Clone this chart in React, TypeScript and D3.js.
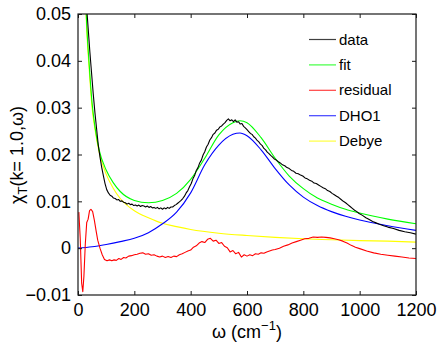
import * as d3 from "d3";
import React, { useEffect, useRef } from "react";

// omega (cm^-1), chi values
const dataPts: [number, number][] = [
  [30, 0.052], [36, 0.047], [42, 0.042], [48, 0.0375], [54, 0.033], [60, 0.029],
  [66, 0.0255], [72, 0.022], [78, 0.0195], [84, 0.0173], [90, 0.0155], [96, 0.0138],
  [102, 0.0125], [108, 0.0118], [114, 0.0113], [120, 0.0111], [126, 0.0107], [132, 0.0106],
  [138, 0.0103], [144, 0.0104], [150, 0.0100], [156, 0.0101], [162, 0.0098], [168, 0.0097],
  [174, 0.0094], [180, 0.0096], [186, 0.0093], [192, 0.0094], [198, 0.0091], [204, 0.0092],
  [210, 0.0090], [216, 0.0092], [222, 0.0089], [228, 0.0091], [234, 0.0090], [240, 0.0088],
  [246, 0.0090], [252, 0.0087], [258, 0.0089], [264, 0.0086], [270, 0.0087], [276, 0.0085],
  [282, 0.0087], [288, 0.0084], [294, 0.0086], [300, 0.0083], [306, 0.0086], [312, 0.0084],
  [318, 0.0087], [324, 0.0085], [330, 0.0088], [336, 0.0088], [342, 0.0091], [348, 0.0093],
  [354, 0.0096], [360, 0.0099], [366, 0.0102], [372, 0.0106], [378, 0.0111], [384, 0.0118],
  [390, 0.0123], [396, 0.0131], [402, 0.0138], [408, 0.0148], [414, 0.0155], [420, 0.0166],
  [426, 0.0172], [432, 0.0182], [438, 0.0188], [444, 0.0199], [450, 0.0206], [456, 0.0216],
  [462, 0.0222], [468, 0.0231], [474, 0.0236], [480, 0.0243], [486, 0.0246], [492, 0.0252],
  [498, 0.0254], [504, 0.0259], [510, 0.0261], [516, 0.0265], [522, 0.0268], [528, 0.0273],
  [534, 0.0276], [540, 0.0272], [546, 0.0274], [552, 0.0270], [558, 0.0274], [564, 0.0269],
  [570, 0.0270], [576, 0.0265], [582, 0.0266], [588, 0.0260], [594, 0.0257], [600, 0.0253],
  [606, 0.0249], [612, 0.0245], [618, 0.0243], [624, 0.0238], [630, 0.0235], [636, 0.0230],
  [642, 0.0227], [648, 0.0222], [654, 0.0219], [660, 0.0213], [666, 0.0210], [672, 0.0205],
  [678, 0.0202], [684, 0.0198], [690, 0.0195], [696, 0.0191], [702, 0.0189], [710, 0.0185],
  [718, 0.0182], [726, 0.0178], [734, 0.0176], [742, 0.0172], [750, 0.0170], [758, 0.0166],
  [766, 0.0164], [774, 0.0160], [782, 0.0159], [790, 0.0156], [798, 0.0154], [806, 0.0150],
  [814, 0.0148], [822, 0.0145], [830, 0.0143], [838, 0.0139], [846, 0.0138], [854, 0.0135],
  [862, 0.0132], [870, 0.0129], [878, 0.0127], [886, 0.0123], [894, 0.0121], [902, 0.0117],
  [910, 0.0114], [918, 0.0111], [926, 0.0108], [934, 0.0104], [942, 0.0100], [950, 0.0097],
  [958, 0.0093], [966, 0.0089], [974, 0.0085], [982, 0.0081], [990, 0.0078], [998, 0.0074],
  [1010, 0.0070], [1022, 0.0065], [1034, 0.0061], [1046, 0.0057], [1058, 0.0054],
  [1070, 0.0051], [1085, 0.0048], [1100, 0.0045], [1120, 0.0042], [1140, 0.0038],
  [1160, 0.0035], [1180, 0.0033], [1200, 0.0030],
];

const fitPts: [number, number][] = [
  [25, 0.057], [30, 0.049], [40, 0.039], [50, 0.031], [60, 0.026], [75, 0.021],
  [100, 0.0167], [125, 0.0140], [150, 0.0121], [200, 0.0102], [250, 0.0097], [300, 0.0102],
  [350, 0.0117], [400, 0.0147], [450, 0.0192], [500, 0.0242], [550, 0.0268], [575, 0.0272],
  [600, 0.0268], [650, 0.0236], [700, 0.0192], [750, 0.0154], [800, 0.0127], [850, 0.0107],
  [900, 0.0094], [950, 0.0083], [1000, 0.0075], [1100, 0.0062], [1200, 0.0052],
];

const residualPts: [number, number][] = [
  [3, 0.0077], [8, 0.002], [13, -0.0075], [17, -0.0093], [21, -0.006], [26, 0.001],
  [31, 0.0055], [36, 0.0062], [41, 0.008], [46, 0.0083], [52, 0.0078], [58, 0.006],
  [64, 0.0038], [70, 0.0017], [78, 0.0], [86, -0.0014], [94, -0.0024], [103, -0.0027],
  [112, -0.0025], [120, -0.0027], [128, -0.0025], [136, -0.0026], [145, -0.0022],
  [153, -0.0024], [162, -0.002], [170, -0.0021], [180, -0.0017], [190, -0.0016],
  [200, -0.0014], [210, -0.0013], [220, -0.0011], [230, -0.001], [240, -0.0013],
  [250, -0.0012], [260, -0.0015], [270, -0.0014], [280, -0.0017], [290, -0.0019],
  [300, -0.0017], [310, -0.002], [320, -0.0018], [330, -0.002], [340, -0.0017],
  [350, -0.0018], [360, -0.0014], [370, -0.0012], [380, -0.0009], [390, -0.0006],
  [400, -0.0004], [410, 0.0002], [420, 0.0005], [430, 0.0011], [440, 0.0014], [450, 0.0012],
  [460, 0.0019], [470, 0.0021], [480, 0.0015], [490, 0.0017], [500, 0.001], [510, 0.0012],
  [520, 0.0004], [530, 0.0001], [540, -0.0008], [550, -0.0005], [560, -0.0012],
  [570, -0.0009], [580, -0.0019], [590, -0.0014], [600, -0.0017], [610, -0.0014],
  [620, -0.0016], [630, -0.0012], [640, -0.0013], [650, -0.001], [660, -0.0011],
  [670, -0.0008], [680, -0.0006], [690, -0.0004], [700, -0.0003], [715, 0.0], [730, 0.0004],
  [745, 0.0007], [760, 0.0011], [775, 0.0014], [790, 0.0017], [805, 0.002], [820, 0.0021],
  [835, 0.0024], [850, 0.0023], [865, 0.0024], [880, 0.0023], [895, 0.0022], [910, 0.002],
  [925, 0.0018], [940, 0.0015], [955, 0.0011], [970, 0.0006], [985, 0.0002], [1000, -0.0001],
  [1025, -0.0006], [1050, -0.001], [1075, -0.0013], [1100, -0.0015], [1125, -0.0017],
  [1150, -0.0019], [1175, -0.0021], [1200, -0.0022],
];

const dhoPts: [number, number][] = [
  [0, 0.0], [50, 0.0003], [100, 0.0008], [150, 0.0014], [200, 0.0021], [250, 0.0033],
  [300, 0.0052], [350, 0.0077], [400, 0.0118], [450, 0.0178], [500, 0.022], [550, 0.0243],
  [575, 0.0246], [600, 0.024], [650, 0.021], [700, 0.017], [750, 0.0135], [800, 0.0109],
  [850, 0.0091], [900, 0.0078], [950, 0.0068], [1000, 0.006], [1100, 0.0048], [1200, 0.0038],
];

const debyePts: [number, number][] = [
  [25, 0.056], [30, 0.048], [40, 0.038], [50, 0.030], [60, 0.0255], [75, 0.0205],
  [100, 0.0158], [125, 0.0128], [150, 0.0106], [200, 0.008], [250, 0.0065], [300, 0.0053],
  [350, 0.0046], [400, 0.004], [500, 0.0032], [600, 0.0027], [700, 0.0023], [800, 0.002],
  [900, 0.0018], [1000, 0.0016], [1100, 0.0015], [1200, 0.0013],
];

const series = [
  { name: "data", pts: dataPts, color: "#000000", smooth: false },
  { name: "fit", pts: fitPts, color: "#00ff00", smooth: true },
  { name: "residual", pts: residualPts, color: "#ff0000", smooth: false },
  { name: "DHO1", pts: dhoPts, color: "#0000ff", smooth: true },
  { name: "Debye", pts: debyePts, color: "#ffff00", smooth: true },
];

const xTicks = [0, 200, 400, 600, 800, 1000, 1200];
const yTicks = [-0.01, 0, 0.01, 0.02, 0.03, 0.04, 0.05];

const App = () => {
  const svgRef = useRef<SVGSVGElement>(null);

  useEffect(() => {
    const svg = d3.select(svgRef.current);
    svg.selectAll("*").remove();

    const left = 78, right = 416, top = 14, bottom = 295;
    const font = "'Liberation Sans', Arial, sans-serif";

    const x = d3.scaleLinear().domain([0, 1200]).range([left, right]);
    const y = d3.scaleLinear().domain([-0.01, 0.05]).range([bottom, top]);

    svg.append("defs").append("clipPath").attr("id", "plotclip")
      .append("rect").attr("x", left).attr("y", top)
      .attr("width", right - left).attr("height", bottom - top);

    const g = svg.append("g").attr("clip-path", "url(#plotclip)");

    // draw in reverse so data ends on top
    [...series].reverse().forEach((s) => {
      const line = d3.line<[number, number]>()
        .x((d) => x(d[0]))
        .y((d) => y(d[1]))
        .curve(s.smooth ? d3.curveMonotoneX : d3.curveLinear);
      g.append("path")
        .datum(s.pts)
        .attr("fill", "none")
        .attr("stroke", s.color)
        .attr("stroke-width", 1.1)
        .attr("stroke-linejoin", "round")
        .attr("d", line);
    });

    // Axes box with inward ticks
    const tl = 4;
    const axisColor = "#1a1a1a";
    svg.append("g").attr("transform", `translate(0,${bottom})`)
      .call(d3.axisBottom(x).tickValues(xTicks).tickSizeInner(-tl).tickSizeOuter(0).tickPadding(8).tickFormat(d3.format("d")))
      .call((a) => a.select(".domain").remove());
    svg.append("g").attr("transform", `translate(0,${top})`)
      .call(d3.axisTop(x).tickValues(xTicks).tickSizeInner(-tl).tickSizeOuter(0).tickFormat(() => ""))
      .call((a) => a.select(".domain").remove());
    svg.append("g").attr("transform", `translate(${left},0)`)
      .call(d3.axisLeft(y).tickValues(yTicks).tickSizeInner(-tl).tickSizeOuter(0).tickPadding(7)
        .tickFormat((d) => (+d === 0 ? "0" : d3.format(".2f")(+d).replace("-", "\u2212"))))
      .call((a) => a.select(".domain").remove());
    svg.append("g").attr("transform", `translate(${right},0)`)
      .call(d3.axisRight(y).tickValues(yTicks).tickSizeInner(-tl).tickSizeOuter(0).tickFormat(() => ""))
      .call((a) => a.select(".domain").remove());

    svg.selectAll(".tick line").attr("stroke", axisColor);
    svg.selectAll(".tick text")
      .attr("fill", "#000")
      .style("font-family", font)
      .style("font-size", "18px");

    svg.append("rect")
      .attr("x", left).attr("y", top)
      .attr("width", right - left).attr("height", bottom - top)
      .attr("fill", "none").attr("stroke", axisColor).attr("stroke-width", 1.2);

    // Legend
    const lg = svg.append("g");
    series.forEach((s, i) => {
      const ly = 39.5 + i * 25.4;
      lg.append("line")
        .attr("x1", 309).attr("x2", 336).attr("y1", ly).attr("y2", ly)
        .attr("stroke", s.color).attr("stroke-width", 1.2).attr("stroke-opacity", 0.75);
      lg.append("text")
        .attr("x", 339).attr("y", ly + 5)
        .style("font-family", font).style("font-size", "15px")
        .text(s.name);
    });

    // X label
    const xl = svg.append("text")
      .attr("x", 247).attr("y", 338)
      .attr("text-anchor", "middle")
      .style("font-family", font).style("font-size", "18px");
    xl.append("tspan").text("\u03c9 (cm");
    xl.append("tspan").attr("dy", -8).style("font-size", "13px").text("\u22121");
    xl.append("tspan").attr("dy", 8).text(")");

    // Y label
    const yl = svg.append("text")
      .attr("transform", "translate(23,155) rotate(-90)")
      .attr("text-anchor", "middle")
      .style("font-family", font).style("font-size", "18px");
    yl.append("tspan").text("\u03c7");
    yl.append("tspan").attr("dy", 4).style("font-size", "13px").text("T");
    yl.append("tspan").attr("dy", -4).text("(k= 1.0,\u03c9)");
  }, []);

  return (
    <svg
      ref={svgRef}
      width={441}
      height={345}
      style={{ position: "absolute", left: 0, top: 0, background: "#fff" }}
    />
  );
};

export default App;
